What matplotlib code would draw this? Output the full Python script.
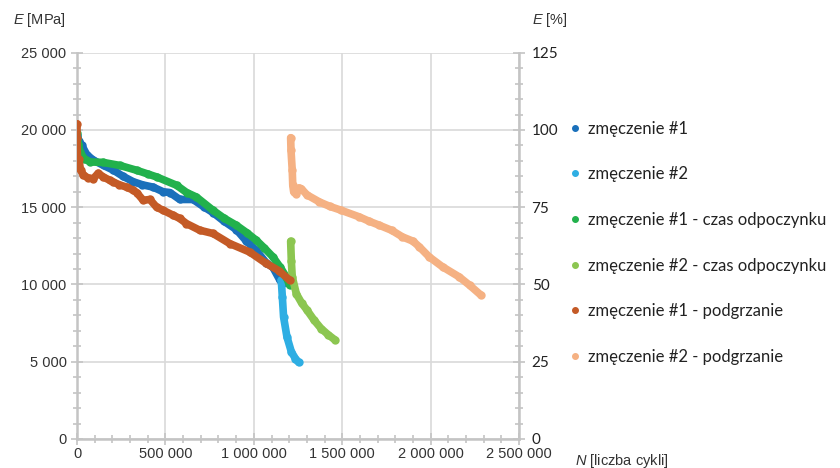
import numpy as np
import matplotlib
matplotlib.use("Agg")
import matplotlib.pyplot as plt
from matplotlib.ticker import MultipleLocator, FuncFormatter
from matplotlib.lines import Line2D

plt.rcParams['font.family'] = 'Liberation Sans'
plt.rcParams['mathtext.fontset'] = 'custom'
plt.rcParams['mathtext.it'] = 'Liberation Sans:italic'
plt.rcParams['mathtext.rm'] = 'Liberation Sans'

# N in millions of cycles, E in MPa
n_zm1 = [0, 0.01, 0.027, 0.055, 0.092, 0.15, 0.205, 0.26, 0.318, 0.37, 0.43, 0.487,
         0.525, 0.581, 0.656, 0.72, 0.769, 0.83, 0.901, 0.958, 1.014, 1.07, 1.108, 1.146, 1.164]
e_zm1 = [19700, 19300, 19000, 18400, 18050, 17700, 17400, 17000, 16650, 16450, 16300, 16000,
         15950, 15500, 15500, 15000, 14650, 14100, 13550, 12800, 12200, 11400, 11100, 10300, 10100]

n_zm2 = [1.155, 1.161, 1.168, 1.187, 1.212, 1.235, 1.253]
e_zm2 = [10280, 9200, 7900, 6610, 5640, 5200, 4960]

n_zm1_odp = [0, 0.008, 0.017, 0.04, 0.073, 0.148, 0.243, 0.337, 0.40, 0.45, 0.563, 0.62,
             0.675, 0.769, 0.83, 0.901, 0.96, 1.014, 1.06, 1.108, 1.15, 1.183, 1.202]
e_zm1_odp = [19800, 19100, 18570, 18150, 17930, 17900, 17700, 17390, 17150, 16960, 16420, 15950,
             15660, 14800, 14300, 13830, 13350, 12860, 12350, 11780, 11100, 10490, 9950]

n_zm2_odp = [1.208, 1.212, 1.217, 1.24, 1.27, 1.30, 1.34, 1.38, 1.42, 1.46]
e_zm2_odp = [12800, 11500, 10500, 9400, 8800, 8350, 7700, 7150, 6750, 6400]

n_zm1_pod = [0, 0, 0.002, 0.004, 0.01, 0.02, 0.036, 0.06, 0.092, 0.12, 0.148, 0.186, 0.205,
             0.24, 0.28, 0.318, 0.337, 0.374, 0.412, 0.45, 0.487, 0.54, 0.581, 0.619, 0.694,
             0.769, 0.863, 0.976, 1.07, 1.14, 1.202]
e_zm1_pod = [20400, 19500, 18200, 17600, 18100, 17400, 17100, 16900, 16850, 17200, 16960, 16740,
             16630, 16450, 16300, 16100, 15950, 15450, 15500, 15000, 14800, 14500, 14270, 13940,
             13510, 13300, 12650, 12100, 11360, 10900, 10280]

n_zm2_pod = [1.208, 1.21, 1.217, 1.22, 1.225, 1.24, 1.255, 1.268, 1.30, 1.371, 1.43, 1.494,
             1.597, 1.65, 1.71, 1.78, 1.84, 1.90, 1.936, 1.992, 2.067, 2.161, 2.22, 2.284]
e_zm2_pod = [19500, 18680, 17390, 16420, 16000, 15880, 16250, 16200, 15800, 15340, 15050, 14800,
             14370, 14100, 13830, 13500, 13080, 12800, 12430, 11780, 11140, 10490, 9950, 9310]

labels = ['zmęczenie #1', 'zmęczenie #2', 'zmęczenie #1 - czas odpoczynku',
          'zmęczenie #2 - czas odpoczynku', 'zmęczenie #1 - podgrzanie', 'zmęczenie #2 - podgrzanie']
colors = ['#1a70bb', '#2eaee3', '#22b14c', '#8cc651', '#c45a26', '#f5b183']
series = [(n_zm1, e_zm1), (n_zm2, e_zm2), (n_zm1_odp, e_zm1_odp),
          (n_zm2_odp, e_zm2_odp), (n_zm1_pod, e_zm1_pod), (n_zm2_pod, e_zm2_pod)]

fig = plt.figure(figsize=(8.4, 4.68), dpi=100)
ax = fig.add_axes([0.0917, 0.062, 0.5263, 0.8254])

for (n, e), c in zip(series, colors):
    ax.plot(np.array(n) * 1e6, e, color=c, lw=5.5, solid_joinstyle='round',
            solid_capstyle='round', marker='o', ms=5, mec=c, mfc=c, zorder=3)

gray = '#c4c4c4'
ax.set_xlim(0, 2500000)
ax.set_ylim(0, 25000)
ax.xaxis.set_major_locator(MultipleLocator(500000))
ax.xaxis.set_minor_locator(MultipleLocator(100000))
ax.yaxis.set_major_locator(MultipleLocator(5000))
ax.yaxis.set_minor_locator(MultipleLocator(1000))
fmt = FuncFormatter(lambda v, p: f"{int(v):,}".replace(",", " "))
ax.xaxis.set_major_formatter(fmt)
ax.yaxis.set_major_formatter(fmt)
ax.grid(True, which='major', color='#d9d9d9', lw=1.2, zorder=0)
ax.set_axisbelow(True)
for s in ['top', 'right']:
    ax.spines[s].set_visible(False)
for s in ['left', 'bottom']:
    ax.spines[s].set_color(gray)
    ax.spines[s].set_linewidth(1.8)
ax.tick_params(which='both', direction='inout', color=gray, width=1.2,
               labelsize=10.5, labelcolor='#333333')
ax.tick_params(which='major', length=8)
ax.tick_params(which='minor', length=6)
ax.tick_params(axis='x', pad=2)

ax2 = ax.twinx()
ax2.set_ylim(0, 125)
ax2.yaxis.set_major_locator(MultipleLocator(25))
ax2.yaxis.set_minor_locator(MultipleLocator(5))
for s in ['top', 'left', 'bottom']:
    ax2.spines[s].set_visible(False)
ax2.spines['right'].set_color(gray)
ax2.spines['right'].set_linewidth(1.8)
ax2.tick_params(which='both', direction='inout', color=gray, width=1.2,
                labelsize=11, labelcolor='#222222', pad=5)
ax2.tick_params(which='major', length=8)
ax2.tick_params(which='minor', length=6)
for t in ax2.get_yticklabels():
    t.set_family('Lato')

fig.text(0.0155, 0.957, '$E$ [MPa]', fontsize=10.5, color='#333333', va='center')
fig.text(0.633, 0.957, '$E$ [%]', fontsize=10.5, color='#333333', va='center')
fig.text(0.685, 0.016, '$N$ [liczba cykli]', fontsize=10.5, color='#333333', va='center')

handles = [Line2D([], [], ls='none', marker='o', ms=4, color=c) for c in colors]
fig.legend(handles, labels, loc='upper left', bbox_to_anchor=(0.678, 0.7425),
           frameon=False, handlelength=0.6, handletextpad=0.5, labelspacing=1.78,
           prop={'family': 'Lato', 'size': 12}, labelcolor='#222222',
           borderaxespad=0, borderpad=0)

fig.savefig('out.png', dpi=100)
